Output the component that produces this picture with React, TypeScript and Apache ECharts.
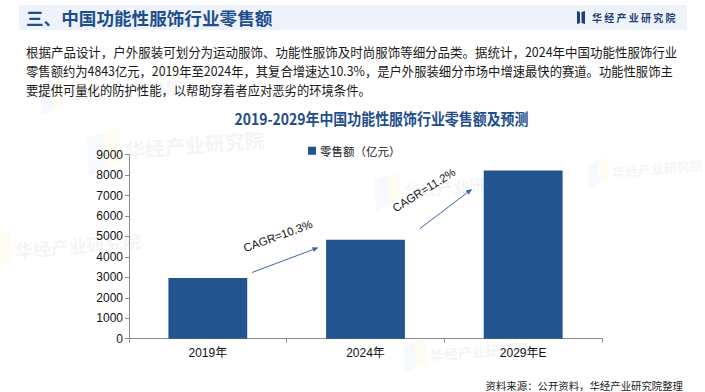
import React, { useEffect, useRef } from "react";
import * as echarts from "echarts";

const categories = ["2019年", "2024年", "2029年E"];
const retailSales = [2967, 4843, 8232];
const seriesName = "零售额（亿元）";
const yTicks = { min: 0, max: 9000, interval: 1000 };
const headerTitle = "三、中国功能性服饰行业零售额";
const brandName = "华经产业研究院";
const chartTitle = "2019-2029年中国功能性服饰行业零售额及预测";
const bodyLines = [
  "根据产品设计，户外服装可划分为运动服饰、功能性服饰及时尚服饰等细分品类。据统计，2024年中国功能性服饰行业",
  "零售额约为4843亿元，2019年至2024年，其复合增速达10.3%，是户外服装细分市场中增速最快的赛道。功能性服饰主",
  "要提供可量化的防护性能，以帮助穿着者应对恶劣的环境条件。",
];
const cagrLabels = ["CAGR=10.3%", "CAGR=11.2%"];
const sourceText = "资料来源：公开资料，华经产业研究院整理";

const BLUE = "#22548f";
const CJK = "'Noto Sans CJK SC', 'Noto Sans', sans-serif";
const LAT = "'Liberation Sans', 'Noto Sans CJK SC', sans-serif";
const bodyScale = [0.96, 0.948, 0.948];

function arrow(x1: number, y1: number, x2: number, y2: number) {
  const ang = Math.atan2(y2 - y1, x2 - x1);
  const L = 6, W = 2.6;
  const bx = x2 - L * Math.cos(ang), by = y2 - L * Math.sin(ang);
  const px = -Math.sin(ang) * W, py = Math.cos(ang) * W;
  return [
    { type: "line", shape: { x1, y1, x2: bx, y2: by }, style: { stroke: "#3a66a8", lineWidth: 1 }, silent: true },
    {
      type: "polygon",
      shape: { points: [[x2, y2], [bx + px, by + py], [bx - px, by - py]] },
      style: { fill: "#3a66a8" },
      silent: true,
    },
  ];
}

function watermark(x: number, y: number, size: number) {
  return [
    {
      type: "polygon",
      shape: { points: [[x - size * 1.9, y - size * 0.6], [x - size * 1.1, y - size * 0.9], [x - size * 1.0, y + size * 0.9], [x - size * 1.8, y + size * 1.3]] },
      style: { fill: "rgba(200,215,240,0.16)" },
      silent: true,
      z: -10,
    },
    {
      type: "polygon",
      shape: { points: [[x - size * 1.1, y - size * 0.9], [x - size * 0.3, y - size * 1.1], [x - size * 0.2, y + size * 0.7], [x - size * 1.0, y + size * 0.9]] },
      style: { fill: "rgba(255,235,170,0.16)" },
      silent: true,
      z: -10,
    },
    {
      type: "text",
      x,
      y,
      rotation: 0.08,
      style: {
        text: brandName,
        font: `bold ${size}px ${CJK}`,
        fill: "rgba(190,190,190,0.16)",
        textVerticalAlign: "middle",
      },
      silent: true,
      z: -10,
    },
  ];
}

export default function App() {
  const ref = useRef<HTMLDivElement>(null);
  useEffect(() => {
    if (!ref.current) return;
    const chart = echarts.init(ref.current, undefined, { renderer: "svg" });
    const graphic: any[] = [
      ...watermark(70, 95, 16),
      ...watermark(125, 150, 20),
      ...watermark(15, 250, 18),
      ...watermark(405, 190, 16),
      ...watermark(612, 172, 13),
      ...watermark(430, 355, 14),
      {
        type: "rect",
        shape: { x: 19, y: 5, width: 668, height: 25 },
        style: { fill: "#eef3fb" },
        silent: true,
        z: -5,
      },
      {
        type: "text",
        x: 26,
        y: 17.5,
        style: {
          text: headerTitle,
          font: `bold 17.6px ${CJK}`,
          fill: "#1f4e8c",
          textVerticalAlign: "middle",
        },
      },
      {
        type: "polygon",
        shape: { points: [[577, 11], [580, 12], [580, 23], [577, 24]] },
        style: { fill: "#1f3f7a" },
      },
      {
        type: "polygon",
        shape: { points: [[581.5, 12], [585, 11], [585, 24], [581.5, 23]] },
        style: { fill: "#1f3f7a" },
      },
      {
        type: "text",
        x: 592,
        y: 17.5,
        style: {
          text: brandName.split("").join(" "),
          font: `bold 10px ${CJK}`,
          fill: "#1f3f7a",
          textVerticalAlign: "middle",
        },
      },
      ...bodyLines.map((t, i) => ({
        type: "text",
        x: 26,
        y: 51.5 + i * 18.8,
        scaleX: bodyScale[i],
        style: {
          text: t,
          font: `13px ${CJK}`,
          fill: "#1a1a1a",
          textVerticalAlign: "middle",
        },
      })),
      {
        type: "text",
        x: 381.5,
        y: 118.5,
        scaleX: 0.9,
        style: {
          text: chartTitle,
          font: `bold 15.5px ${CJK}`,
          fill: "#1f4e8c",
          textAlign: "center",
          textVerticalAlign: "middle",
        },
      },
      ...arrow(252, 272.5, 318.5, 247.5),
      ...arrow(420, 228.5, 472, 189),
      {
        type: "text",
        x: 278,
        y: 236,
        rotation: (20 * Math.PI) / 180,
        style: {
          text: cagrLabels[0],
          font: `11.5px ${LAT}`,
          fill: "#111",
          textAlign: "center",
          textVerticalAlign: "middle",
        },
      },
      {
        type: "text",
        x: 424,
        y: 190,
        rotation: (32 * Math.PI) / 180,
        style: {
          text: cagrLabels[1],
          font: `11.5px ${LAT}`,
          fill: "#111",
          textAlign: "center",
          textVerticalAlign: "middle",
        },
      },
      {
        type: "text",
        x: 683,
        y: 385,
        style: {
          text: sourceText,
          font: `10.4px ${CJK}`,
          fill: "#1a1a1a",
          textAlign: "right",
          textVerticalAlign: "middle",
        },
      },
    ];

    chart.setOption({
      animation: false,
      backgroundColor: "#ffffff",
      grid: { left: 129, right: 103, top: 154.7, bottom: 53.3, containLabel: false },
      legend: {
        data: [seriesName],
        left: 303,
        top: 140,
        icon: "rect",
        itemWidth: 8,
        itemHeight: 8,
        itemGap: 4,
        textStyle: { fontSize: 11.5, fontFamily: CJK, color: "#1a1a1a", padding: [0, 0, 0, -1] },
      },
      xAxis: {
        type: "category",
        data: categories,
        axisLine: { lineStyle: { color: "#8c8c8c", width: 1 } },
        axisTick: { show: true, length: 4, lineStyle: { color: "#8c8c8c" } },
        axisLabel: { fontSize: 12, fontFamily: LAT, color: "#111", margin: 8 },
      },
      yAxis: {
        type: "value",
        min: yTicks.min,
        max: yTicks.max,
        interval: yTicks.interval,
        axisLine: { show: true, lineStyle: { color: "#8c8c8c", width: 1 } },
        axisTick: { show: true, length: 4, lineStyle: { color: "#8c8c8c" } },
        splitLine: { show: false },
        axisLabel: {
          fontSize: 12,
          fontFamily: LAT,
          color: "#111",
          margin: 6,
          formatter: (v: number) => String(v),
        },
      },
      series: [
        {
          name: seriesName,
          type: "bar",
          data: retailSales,
          barWidth: "50%",
          itemStyle: { color: BLUE },
        },
      ],
      graphic,
    });
    return () => chart.dispose();
  }, []);
  return (
    <div
      ref={ref}
      style={{ position: "fixed", left: 0, top: 0, width: 705, height: 392, background: "#fff" }}
    />
  );
}
